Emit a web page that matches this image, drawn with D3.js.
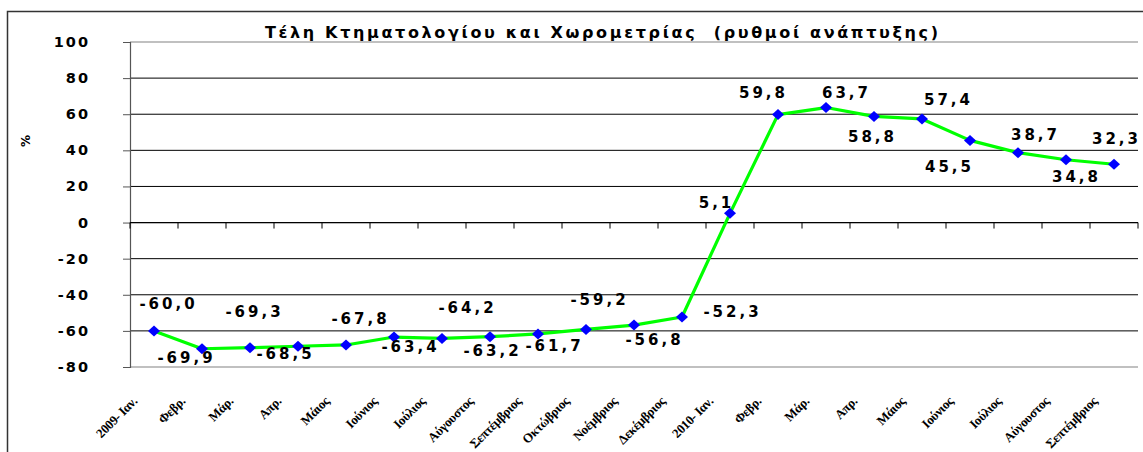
<!DOCTYPE html>
<html>
<head>
<meta charset="utf-8">
<script src="https://cdn.jsdelivr.net/npm/d3@7"></script>
<style>
  body { margin: 0; background: #fff; }
  svg { display: block; }
</style>
</head>
<body>
<svg id="chart" width="1143" height="452"></svg>
<script>
// Τέλη Κτηματολογίου και Χωρομετρίας, ρυθμοί ανάπτυξης (%)
var months = ["2009- Ιαν.", "Φεβρ.", "Μάρ.", "Απρ.", "Μάιος", "Ιούνιος", "Ιούλιος",
    "Αύγουστος", "Σεπτέμβριος", "Οκτώβριος", "Νοέμβριος", "Δεκέμβριος",
    "2010- Ιαν.", "Φεβρ.", "Μάρ.", "Απρ.", "Μάιος", "Ιούνιος", "Ιούλιος",
    "Αύγουστος", "Σεπτέμβριος"];
var growth = [-60.0, -69.9, -69.3, -68.5, -67.8, -63.4, -64.2, -63.2, -61.7, -59.2,
    -56.8, -52.3, 5.1, 59.8, 63.7, 58.8, 57.4, 45.5, 38.7, 34.8, 32.3];
var yTicks = [-80, -60, -40, -20, 0, 20, 40, 60, 80, 100];

// label nudges (dx, dy from the marker), as placed by hand in the original
var labelNudge = [[13, -22], [-17, 14], [3, -31], [-14, 13], [13, -21], [15, 15],
    [24, -25], [1, 19], [15, 17], [12, -24], [19, 20], [49, 0], [-15, -5],
    [-16, -17], [19, -10], [-3, 26], [25, -14], [-22, 32], [16, -13], [9, 22], [1, -20]];

var svg = d3.select("#chart");
var keys = months.map(function (m, i) { return i; });

var x = d3.scaleBand().domain(keys).range([130, 1138]).padding(0);
var y = d3.scaleLinear().domain([-80, 100]).range([367, 42]);

function cx(i) { return x(i) + x.bandwidth() / 2; }

// outer frame
svg.append("rect")
    .attr("x", 7.5).attr("y", 11.5)
    .attr("width", 1160).attr("height", 460)
    .attr("fill", "none").attr("stroke", "#333").attr("stroke-width", 1.5);

// gridlines
svg.append("g").selectAll("line")
    .data(yTicks.filter(function (t) { return t > -80 && t < 100; }))
    .enter().append("line")
    .attr("x1", 130).attr("x2", 1138)
    .attr("y1", function (d) { return y(d); })
    .attr("y2", function (d) { return y(d); })
    .attr("stroke", "#000").attr("stroke-width", 1);

// plot area edges
[100, -80].forEach(function (t) {
    svg.append("line")
        .attr("x1", 130).attr("x2", 1138)
        .attr("y1", y(t)).attr("y2", y(t))
        .attr("stroke", "#c0c0c0").attr("stroke-width", 2);
});

// y axis
var yAxis = svg.append("g")
    .attr("transform", "translate(130,0)")
    .call(d3.axisLeft(y).tickValues(yTicks).tickSize(7).tickPadding(0).tickFormat(d3.format("d")));
yAxis.select(".domain").attr("stroke", "#555").attr("stroke-width", 1.2);
yAxis.selectAll(".tick line").attr("stroke", "#555");
yAxis.selectAll(".tick text").remove();

svg.append("g").selectAll("text")
    .data(yTicks).enter().append("text")
    .attr("x", 90)
    .attr("y", function (d) { return y(d) + 5; })
    .attr("text-anchor", "end")
    .style("font-family", "DejaVu Sans")
    .style("font-weight", "bold")
    .style("font-size", "14.5px")
    .style("letter-spacing", "2px")
    .text(function (d) { return d; });

svg.append("text")
    .attr("transform", "translate(30,141) rotate(-90)")
    .attr("text-anchor", "middle")
    .style("font-family", "DejaVu Sans")
    .style("font-weight", "bold")
    .style("font-size", "12px")
    .text("%");

// x axis on zero line, ticks at band edges
var xAxis = svg.append("g").attr("transform", "translate(0," + y(0) + ")");
xAxis.append("line").attr("x1", 130).attr("x2", 1138)
    .attr("stroke", "#000").attr("stroke-width", 1.2);
xAxis.selectAll(".tk")
    .data(keys.concat([keys.length]))
    .enter().append("line")
    .attr("class", "tk")
    .attr("x1", function (i) { return 130 + i * x.bandwidth(); })
    .attr("x2", function (i) { return 130 + i * x.bandwidth(); })
    .attr("y1", 0).attr("y2", 6)
    .attr("stroke", "#000");

// category labels
svg.append("g").selectAll("text")
    .data(months).enter().append("text")
    .attr("transform", function (d, i) { return "translate(" + (cx(i) - 16) + ",402) rotate(-45)"; })
    .attr("text-anchor", "end")
    .style("font-family", "Liberation Serif")
    .style("font-weight", "bold")
    .style("font-size", "13px")
    .style("letter-spacing", "-0.3px")
    .text(function (d) { return d; });

// chart title
svg.append("text")
    .attr("x", 265).attr("y", 38)
    .attr("textLength", 673)
    .attr("lengthAdjust", "spacing")
    .attr("xml:space", "preserve")
    .style("white-space", "pre")
    .style("font-family", "DejaVu Sans")
    .style("font-weight", "bold")
    .style("font-size", "16px")
    .text("Τέλη Κτηματολογίου και Χωρομετρίας  (ρυθμοί ανάπτυξης)");

// series
var line = d3.line()
    .x(function (d, i) { return cx(i); })
    .y(function (d) { return y(d); });

svg.append("path")
    .datum(growth)
    .attr("d", line)
    .attr("fill", "none")
    .attr("stroke", "#00ff00")
    .attr("stroke-width", 3.2)
    .attr("stroke-linejoin", "round");

svg.append("g").selectAll("path")
    .data(growth).enter().append("path")
    .attr("d", function (d, i) {
        var px = cx(i), py = y(d);
        return "M" + px + "," + (py - 5.5) + "L" + (px + 6) + "," + py +
            "L" + px + "," + (py + 5.5) + "L" + (px - 6) + "," + py + "Z";
    })
    .attr("fill", "#0000ff");

svg.append("g").selectAll("text")
    .data(growth).enter().append("text")
    .attr("x", function (d, i) { return cx(i) + labelNudge[i][0] + 1.5; })
    .attr("y", function (d, i) { return y(d) + labelNudge[i][1]; })
    .attr("text-anchor", "middle")
    .style("font-family", "DejaVu Sans")
    .style("font-weight", "bold")
    .style("font-size", "15px")
    .style("letter-spacing", "3px")
    .text(function (d) { return d.toFixed(1).replace(".", ","); });
</script>
</body>
</html>
